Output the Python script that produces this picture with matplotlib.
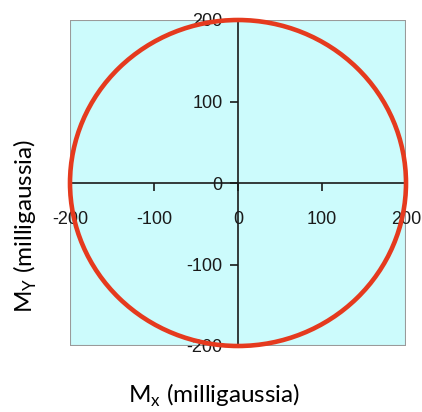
import matplotlib
matplotlib.use("Agg")
import matplotlib.pyplot as plt
from matplotlib.patches import Circle, Rectangle

# Data
center_x = 0
center_y = 0
radius = 200
x_ticks = [-200, -100, 0, 100, 200]
y_ticks = [-200, -100, 0, 100, 200]
x_tick_labels = ["-200", "-100", "0", "100", "200"]
y_tick_labels = ["-200", "-100", "0", "100", "200"]
x_label = r"M$_\mathregular{x}$ (milligaussia)"
y_label = r"M$_\mathregular{Y}$ (milligaussia)"

fig = plt.figure(figsize=(4.22, 4.12), dpi=100)
ax = fig.add_axes([70/422, 1-346/412, 336/422, 326/412])
ax.set_xlim(-200, 200)
ax.set_ylim(-200, 200)
ax.set_facecolor("#ccfbfc")

for s in ["top", "right"]:
    ax.spines[s].set_visible(False)
ax.spines["left"].set_position(("data", 0))
ax.spines["bottom"].set_position(("data", 0))
ax.spines["left"].set_color("#1a1a1a")
ax.spines["bottom"].set_color("#1a1a1a")
ax.spines["left"].set_linewidth(1.2)
ax.spines["bottom"].set_linewidth(1.2)

ax.add_patch(Rectangle((0, 0), 1, 1, transform=ax.transAxes, fill=False,
                       edgecolor="#9a9a9a", linewidth=1.5, zorder=1.5))

ax.set_xticks(x_ticks)
ax.set_xticklabels(x_tick_labels)
ax.set_yticks(y_ticks)
ax.set_yticklabels(y_tick_labels)
ax.tick_params(axis="x", direction="out", length=6, width=1.2, pad=14,
               labelsize=13, colors="#1a1a1a")
ax.tick_params(axis="y", direction="out", length=6, width=1.2, pad=5,
               labelsize=13, colors="#1a1a1a")
for lab in ax.get_xticklabels() + ax.get_yticklabels():
    lab.set_family("Liberation Sans")

ax.add_patch(Circle((center_x, center_y), radius, fill=False,
                    edgecolor="#e53a1e", linewidth=3.3, zorder=3, clip_on=False))

fig.text(214/422, 1-395/412, x_label, ha="center", va="center",
         fontsize=17.5, family="Lato")
fig.text(25/422, 1-226/412, y_label, ha="center", va="center",
         fontsize=17.5, family="Lato", rotation=90)

fig.savefig("out.png", dpi=100)
